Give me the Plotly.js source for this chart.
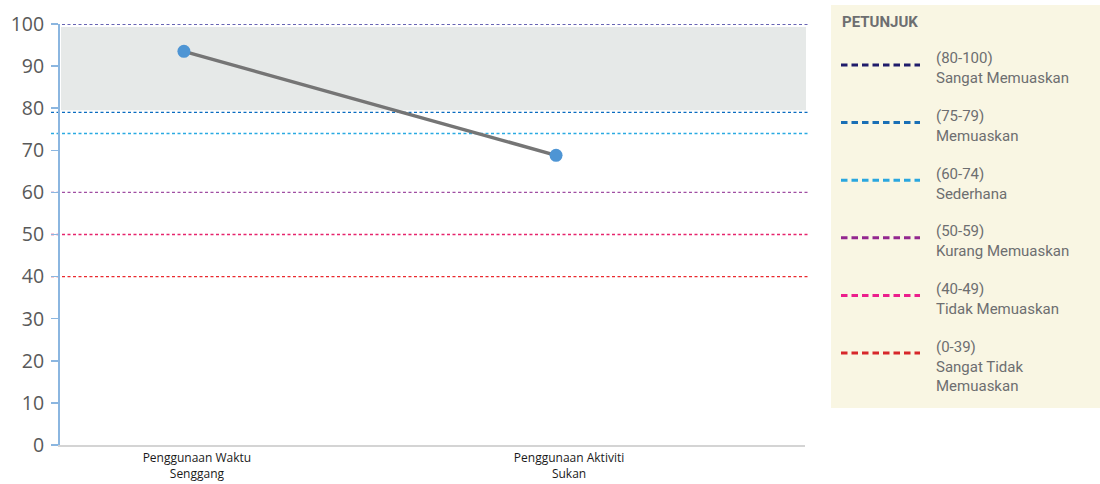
<!DOCTYPE html>
<html>
<head>
<meta charset="utf-8">
<script src="https://cdn.plot.ly/plotly-3.0.1.min.js"></script>
<style>body{margin:0;padding:0;background:#fff;} #chart{width:1100px;height:484px;}</style>
</head>
<body>
<div id="chart"></div>
<script>
// ---- data ----
const categories = ["Penggunaan Waktu<br>Senggang", "Penggunaan Aktiviti<br>Sukan"];
const scores = [93.5, 68.8];
const bandRange = [79.5, 99.3];
const thresholdValues = [100, 79, 74, 60, 50, 40];
const thresholdColors = ["#36329a", "#0a6cc0", "#2aaae2", "#a04ea3", "#e6246d", "#ea2a2f"];
const legendRanges = ["(80-100)", "(75-79)", "(60-74)", "(50-59)", "(40-49)", "(0-39)"];
const legendLabels = ["Sangat Memuaskan", "Memuaskan", "Sederhana", "Kurang Memuaskan", "Tidak Memuaskan", "Sangat Tidak<br>Memuaskan"];
const legendColors = ["#201c6b", "#1a6fb5", "#2aa7df", "#93278f", "#ec1e8c", "#d7262b"];
const legendTitle = "PETUNJUK";

// ---- layout helpers ----
const W = 1100, H = 484;
const M = {l: 60, r: 295, t: 24, b: 39};
const pw = W - M.l - M.r, ph = H - M.t - M.b;
const px = x => (x - M.l) / pw;
const py = y => (H - M.b - y) / ph;

const shapes = [];
const annotations = [];

// gray band
shapes.push({type: "rect", xref: "paper", yref: "y", x0: px(61), x1: px(806),
  y0: bandRange[0], y1: bandRange[1], fillcolor: "#e6e9e8", line: {width: 0}, layer: "below"});

// threshold lines
thresholdValues.forEach((v, i) => {
  shapes.push({type: "line", xref: "paper", yref: "y", x0: px(51), x1: px(808), y0: v, y1: v,
    line: {color: thresholdColors[i], width: 1.4, dash: "3px,2.5px"}, layer: "below"});
});

// legend panel
shapes.push({type: "rect", xref: "paper", yref: "paper", x0: px(831), x1: px(1100), y0: py(408), y1: py(5),
  fillcolor: "#f9f6e3", line: {width: 0}, layer: "below"});
annotations.push({xref: "paper", yref: "paper", x: px(840), y: py(22), xanchor: "left", yanchor: "middle",
  text: "<b>" + legendTitle + "</b>", showarrow: false, font: {family: "Roboto, sans-serif", size: 15, color: "#6d6e70"}});
legendRanges.forEach((r, i) => {
  const yc = 65 + i * 57.6;
  shapes.push({type: "line", xref: "paper", yref: "paper", x0: px(841), x1: px(920), y0: py(yc), y1: py(yc),
    line: {color: legendColors[i], width: 3, dash: "6.5px,4px"}});
  annotations.push({xref: "paper", yref: "paper", x: px(934), y: py(yc - 17.5), xanchor: "left", yanchor: "top",
    align: "left", text: r + "<br>" + legendLabels[i], showarrow: false,
    font: {family: "Roboto, sans-serif", size: 15, color: "#6d6e70"}});
});

const trace = {
  x: categories, y: scores, type: "scatter", mode: "lines+markers",
  line: {color: "#757575", width: 3.5},
  marker: {color: "#4e95d4", size: 13},
  cliponaxis: false, hoverinfo: "skip"
};

const layout = {
  width: W, height: H, margin: M,
  paper_bgcolor: "#fff", plot_bgcolor: "rgba(0,0,0,0)",
  showlegend: false,
  xaxis: {type: "category", range: [-0.333, 1.669], showgrid: false, zeroline: false,
    showline: true, linecolor: "#d4d4d4", linewidth: 1.5, ticks: "",
    ticklabelshift: 13, ticklabelstandoff: 1,
    tickfont: {family: "'Open Sans', sans-serif", size: 12, color: "#1a1a1a"}},
  yaxis: {range: [0, 100], dtick: 10, showgrid: false, zeroline: false,
    showline: true, linecolor: "#8bb6e0", linewidth: 2, ticks: "outside", ticklen: 7,
    tickcolor: "#8bb6e0", tickwidth: 1.5, ticklabelstandoff: 3,
    tickfont: {family: "'Open Sans', sans-serif", size: 19.5, color: "#595959"}},
  shapes: shapes, annotations: annotations
};

Plotly.newPlot("chart", [trace], layout, {displayModeBar: false, staticPlot: true});
</script>
</body>
</html>
